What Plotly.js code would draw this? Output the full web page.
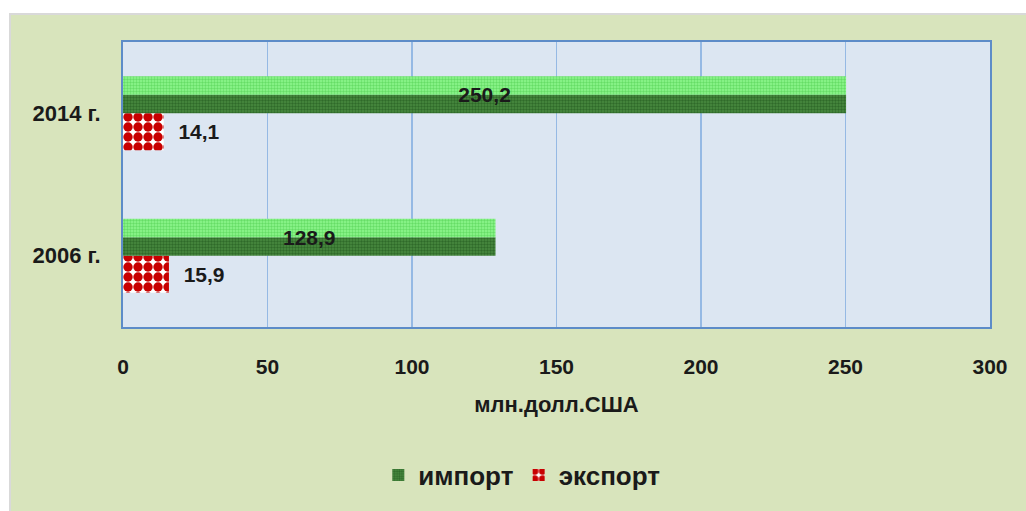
<!DOCTYPE html>
<html>
<head>
<meta charset="utf-8">
<script src="https://cdn.plot.ly/plotly-3.0.1.min.js"></script>
<style>
html,body{margin:0;padding:0;background:#ffffff;}
#wrap{position:absolute;left:9px;top:13px;width:1017px;height:498px;border-top:2px solid #d9d9d9;border-left:2px solid #d9d9d9;}
#chart{width:1015px;height:496px;}
</style>
</head>
<body>
<div id="wrap"><div id="chart"></div></div>
<script>
const categories = ['2006 г.', '2014 г.'];
const importValues = [128.9, 250.2];
const exportValues = [15.9, 14.1];
const seriesNames = ['импорт', 'экспорт'];
const xTicks = [0, 50, 100, 150, 200, 250, 300];

const FONT = 'Liberation Sans, Arial, sans-serif';
const TXT = '#1a1a1a';

const traces = [
  {
    type: 'bar', orientation: 'h', name: seriesNames[1],
    y: categories, x: exportValues,
    width: 0.26, offset: -0.26,
    marker: {color: '#cc0000', line: {width: 0},
      pattern: {shape: '.', fgcolor: '#c80000', bgcolor: '#ffffff', size: 10, solidity: 0.7}},
    texttemplate: '\u00a0\u00a0%{x:.1f}', textposition: 'outside', cliponaxis: false,
    textfont: {family: FONT, size: 21, color: TXT, weight: 'bold'},
    hoverinfo: 'x+y', legendrank: 2
  },
  {
    type: 'bar', orientation: 'h', name: seriesNames[0],
    y: categories, x: importValues,
    width: 0.13, offset: 0,
    marker: {color: '#3d7a34', line: {width: 0},
      pattern: {shape: '.', fgcolor: '#2f6a2a', bgcolor: '#4a8c40', size: 3, solidity: 0.5}},
    hoverinfo: 'x+y', legendrank: 1, legendgroup: 'imp', showlegend: true
  },
  {
    type: 'bar', orientation: 'h', name: seriesNames[0],
    y: categories, x: importValues,
    width: 0.13, offset: 0.13,
    marker: {color: '#80f07c', line: {width: 0},
      pattern: {shape: '.', fgcolor: '#66dd66', bgcolor: '#90f890', size: 3, solidity: 0.5}},
    hoverinfo: 'skip', legendgroup: 'imp', showlegend: false
  },
  {
    type: 'bar', orientation: 'h', name: seriesNames[0],
    y: categories, x: importValues,
    width: 0.26, offset: 0,
    marker: {color: 'rgba(0,0,0,0)', line: {width: 0}},
    texttemplate: '%{x:.1f}', textposition: 'inside', insidetextanchor: 'middle',
    textfont: {family: FONT, size: 21, color: TXT, weight: 'bold'},
    hoverinfo: 'skip', legendgroup: 'imp', showlegend: false
  }
];

const layout = {
  width: 1015, height: 496,
  paper_bgcolor: '#d8e4bc', plot_bgcolor: '#dce6f2',
  margin: {l: 112, r: 36, t: 27, b: 182},
  barmode: 'overlay',
  separators: ',.',
  font: {family: FONT, size: 20, color: TXT},
  showlegend: true,
  legend: {orientation: 'h', x: 0.46, xanchor: 'center', y: -0.52, yanchor: 'middle',
    font: {family: FONT, size: 26, color: TXT, weight: 'bold'}, bgcolor: 'rgba(0,0,0,0)',
    itemwidth: 30, tracegroupgap: 0},
  xaxis: {
    range: [0, 300], tickvals: xTicks, ticktext: xTicks.map(String),
    showgrid: true, gridcolor: '#95b9e4', gridwidth: 1.5,
    zeroline: false, showline: true, linecolor: '#5d8cc8', linewidth: 2, mirror: true,
    ticks: '', ticklabelstandoff: 20,
    tickfont: {family: FONT, size: 21, color: TXT, weight: 'bold'},
    title: {text: 'млн.долл.США', standoff: 19, font: {family: FONT, size: 22, color: TXT, weight: 'bold'}},
    fixedrange: true
  },
  yaxis: {
    type: 'category', categoryorder: 'array', categoryarray: categories,
    showgrid: false, zeroline: false, showline: true, linecolor: '#5d8cc8', linewidth: 2, mirror: true,
    ticks: '', ticklabelstandoff: 16,
    tickfont: {family: FONT, size: 22, color: TXT, weight: 'bold'},
    fixedrange: true
  }
};

Plotly.newPlot('chart', traces, layout, {displayModeBar: false, staticPlot: true});
</script>
</body>
</html>
